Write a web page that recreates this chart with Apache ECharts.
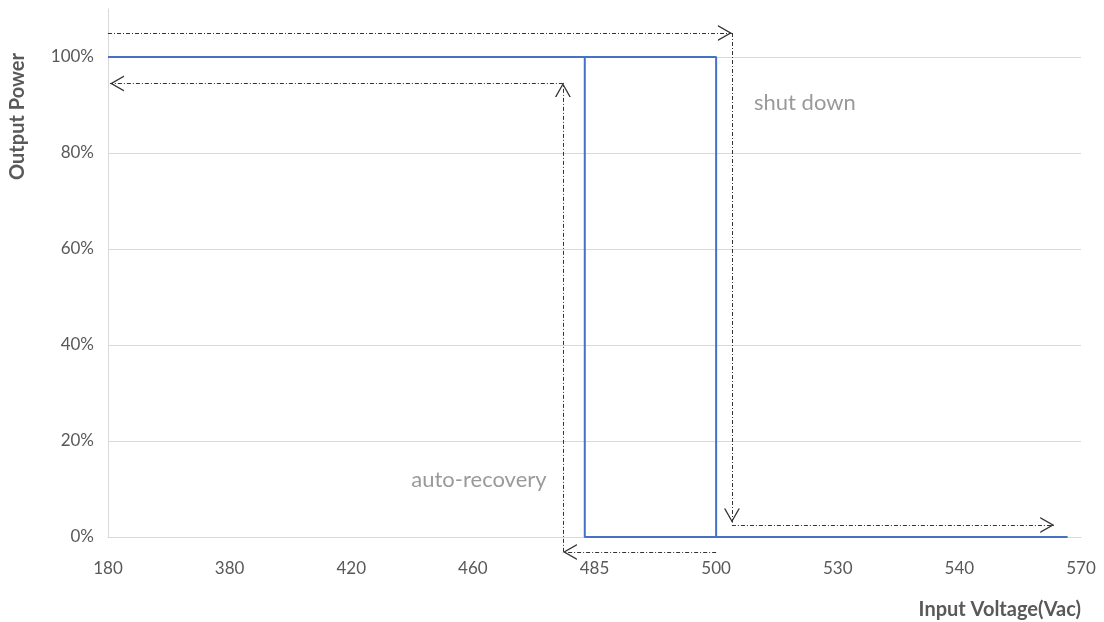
<!DOCTYPE html>
<html>
<head>
<meta charset="utf-8">
<script src="https://cdn.jsdelivr.net/npm/echarts@6/dist/echarts.min.js"></script>
<style>
html,body{margin:0;padding:0;background:#fff;}
#chart{width:1104px;height:622px;}
</style>
</head>
<body>
<div id="chart"></div>
<script>
// x axis tick labels (evenly spaced positions, index units)
const xTickLabels = ['180', '380', '420', '460', '485', '500', '530', '540', '570'];

// Main output-power curve (x in tick-index units, y as fraction)
const mainX = [0, 5, 5, 7.89];
const mainY = [1, 1, 0, 0];

// Auto-recovery branch at 485
const recoveryX = [3.92, 3.92, 5];
const recoveryY = [1, 0, 0];

// Annotation arrows (dash-dot), each segment [x0, y0, x1, y1], arrowhead at end
const shutDownArrows = [
  [0, 1.05, 5.13, 1.05],
  [5.13, 1.05, 5.13, 0.03],
  [5.13, 0.025, 7.78, 0.025]
];
const recoveryArrows = [
  [5.0, -0.031, 3.74, -0.031],
  [3.74, -0.031, 3.74, 0.946],
  [3.74, 0.945, 0.016, 0.945]
];

// Annotation texts [x, y, text]
const notes = [
  [5.73, 0.905, 'shut down'],
  [3.05, 0.119, 'auto-recovery']
];

const yAxisTitle = 'Output Power';
const xAxisTitle = 'Input Voltage(Vac)';

const chevron = 'path://M10,10 L18,24 L16.5,24 L10,12.6 L3.5,24 L2,24 Z M-4,-4 L-4,-3.9 L-3.9,-4 Z M24,24 L24,23.9 L23.9,24 Z';

function zip(xs, ys) { return xs.map((x, i) => [x, ys[i]]); }
function segs(list) { return list.map(s => ({ coords: [[s[0], s[1]], [s[2], s[3]]] })); }

const FONT = 'Lato';

const option = {
  animation: false,
  grid: { left: 108, right: 23, top: 9, bottom: 85 },
  graphic: [
    {
      type: 'text', x: 18, y: 116.5, rotation: Math.PI / 2,
      style: { text: yAxisTitle, fontFamily: FONT, fontWeight: 'bold', fontSize: 20, fill: '#595959', align: 'center', verticalAlign: 'middle' }
    }
  ],
  xAxis: {
    type: 'value', min: 0, max: 8, interval: 1,
    name: xAxisTitle,
    nameLocation: 'end', nameGap: 0,
    nameTextStyle: { fontFamily: FONT, fontWeight: 'bold', fontSize: 20, color: '#595959', align: 'right', verticalAlign: 'top', padding: [63, 0, 0, 0] },
    axisLine: { show: true, lineStyle: { color: '#d9d9d9', width: 1 } },
    axisTick: { show: false },
    splitLine: { show: false },
    axisLabel: { margin: 23, fontFamily: FONT, fontSize: 17, color: '#595959', formatter: v => xTickLabels[Math.round(v)] }
  },
  yAxis: {
    type: 'value', min: 0, max: 1.1, interval: 0.2,
    axisLine: { show: true, lineStyle: { color: '#d9d9d9', width: 1 } },
    axisTick: { show: false },
    splitLine: { show: true, showMaxLine: false, lineStyle: { color: '#d9d9d9', width: 1 } },
    axisLabel: { margin: 14, fontFamily: FONT, fontSize: 17, color: '#595959', showMaxLabel: false, formatter: v => Math.round(v * 100) + '%' }
  },
  series: [
    {
      type: 'line', data: zip(mainX, mainY), symbol: 'none',
      lineStyle: { color: '#4472c4', width: 2 }, z: 3
    },
    {
      type: 'line', data: zip(recoveryX, recoveryY), symbol: 'none',
      lineStyle: { color: '#4472c4', width: 2 }, z: 3
    },
    {
      type: 'lines', coordinateSystem: 'cartesian2d', clip: false,
      data: segs(shutDownArrows).concat(segs(recoveryArrows)),
      symbol: ['none', chevron], symbolSize: 28,
      lineStyle: { color: '#333333', width: 1, type: [4, 2, 1, 2], opacity: 1 },
      z: 4
    },
    {
      type: 'scatter', symbolSize: 0, clip: false,
      data: notes.map(n => ({ value: [n[0], n[1]], name: n[2] })),
      label: { show: true, position: 'inside', formatter: p => p.name, fontFamily: FONT, fontSize: 22, color: '#7f7f7f' },
      silent: true
    }
  ]
};

const chart = echarts.init(document.getElementById('chart'), null, { renderer: 'canvas' });
chart.setOption(option);
</script>
</body>
</html>
